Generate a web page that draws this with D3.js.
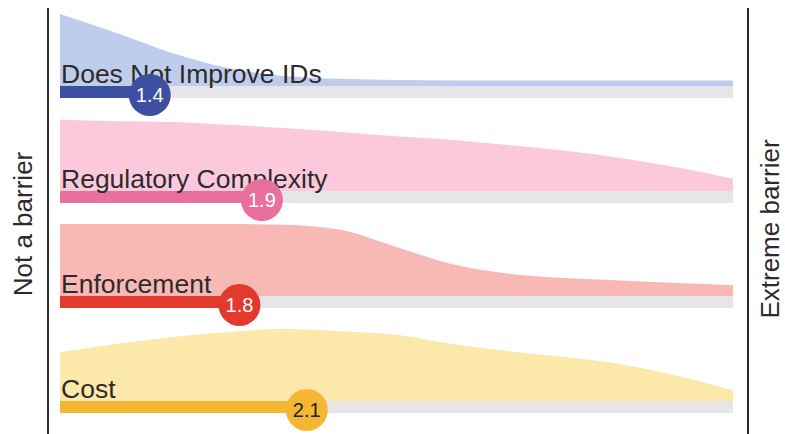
<!DOCTYPE html>
<html>
<head>
<meta charset="utf-8">
<script src="https://cdn.jsdelivr.net/npm/d3@7"></script>
<style>
  body { margin: 0; background: #fff; }
  text { font-family: "Liberation Sans", Arial, sans-serif; }
</style>
</head>
<body>
<div id="chart"></div>
<script>
// barrier ratings, 1 = not a barrier ... 4 = extreme barrier
var categories = ["Does Not Improve IDs", "Regulatory Complexity", "Enforcement", "Cost"];
var means = [1.4, 1.9, 1.8, 2.1];

// response distribution (relative density) sampled along the rating scale
var densityX = [1, 1.25, 1.5, 1.75, 2, 2.25, 2.5, 2.75, 3, 3.25, 3.5, 3.75, 4];
var densityIDs = [1.0, 0.74, 0.46, 0.25, 0.14, 0.1, 0.085, 0.078, 0.076, 0.076, 0.076, 0.076, 0.076];
var densityRegulatory = [0.99, 0.97, 0.96, 0.92, 0.875, 0.82, 0.76, 0.71, 0.64, 0.56, 0.46, 0.33, 0.17];
var densityEnforcement = [1.0, 1.0, 1.0, 1.0, 0.99, 0.92, 0.68, 0.44, 0.31, 0.25, 0.215, 0.18, 0.15];
var densityCost = [0.68, 0.79, 0.89, 0.96, 1.0, 0.97, 0.92, 0.79, 0.69, 0.61, 0.51, 0.35, 0.15];
var densities = [densityIDs, densityRegulatory, densityEnforcement, densityCost];

var barColors = ["#3d4fa1", "#e8709d", "#e23a2e", "#f5b731"];
var areaColors = ["#bfcdec", "#fcc9dc", "#f8b9b4", "#fce8a8"];
var valueColors = ["#fff", "#fff", "#fff", "#222"];

var width = 785, height = 434;

var svg = d3.select("#chart")
	.append("svg")
	.attr("width", width)
	.attr("height", height)

var x = d3.scaleLinear()
	.domain([1, 4])
	.range([60, 733])

// row position = top of the gray track
var rowY = d3.scaleBand()
	.domain(categories)
	.range([86, 506])
	.paddingInner(0)

var h = d3.scaleLinear()
	.domain([0, 1])
	.range([0, 72])

var trackH = 12;

var rows = svg.selectAll("g.row")
	.data(categories)
	.enter()
	.append("g")
	.attr("class", "row")
	.attr("transform", d => "translate(0," + rowY(d) + ")")

// density area sitting on the track
rows.append("path")
	.attr("fill", (d, i) => areaColors[i])
	.attr("d", (d, i) => d3.area()
		.x(v => x(v))
		.y0(0)
		.y1((v, j) => -h(densities[i][j]))
		.curve(d3.curveMonotoneX)(densityX))

// gray track
rows.append("rect")
	.attr("x", x(1))
	.attr("y", 0)
	.attr("width", x(4) - x(1))
	.attr("height", trackH)
	.attr("fill", "#e6e5e7")

// mean bar
rows.append("rect")
	.attr("x", x(1))
	.attr("y", 0)
	.attr("width", (d, i) => x(means[i]) - x(1))
	.attr("height", trackH)
	.attr("fill", (d, i) => barColors[i])

rows.append("text")
	.attr("x", x(1) + 1)
	.attr("y", -3)
	.attr("font-size", 26.5)
	.attr("fill", "#2e2a2b")
	.text(d => d)

rows.append("circle")
	.attr("cx", (d, i) => x(means[i]))
	.attr("cy", trackH / 2 + 3)
	.attr("r", 21)
	.attr("fill", (d, i) => barColors[i])

rows.append("text")
	.attr("x", (d, i) => x(means[i]))
	.attr("y", trackH / 2 + 3)
	.attr("dy", "0.36em")
	.attr("text-anchor", "middle")
	.attr("font-size", 20)
	.attr("fill", (d, i) => valueColors[i])
	.text((d, i) => d3.format(".1f")(means[i]))

// end lines
svg.selectAll("line.end")
	.data([1, 4])
	.enter()
	.append("line")
	.attr("class", "end")
	.attr("x1", d => d === 1 ? 48 : 748)
	.attr("x2", d => d === 1 ? 48 : 748)
	.attr("y1", 8)
	.attr("y2", height)
	.attr("stroke", "#2a2a2a")
	.attr("stroke-width", 2)

svg.append("text")
	.attr("transform", "translate(32,224) rotate(-90)")
	.attr("text-anchor", "middle")
	.attr("font-size", 26)
	.attr("fill", "#2e2a2b")
	.text("Not a barrier")

svg.append("text")
	.attr("transform", "translate(779,229) rotate(-90)")
	.attr("text-anchor", "middle")
	.attr("font-size", 26)
	.attr("fill", "#2e2a2b")
	.text("Extreme barrier")
</script>
</body>
</html>
